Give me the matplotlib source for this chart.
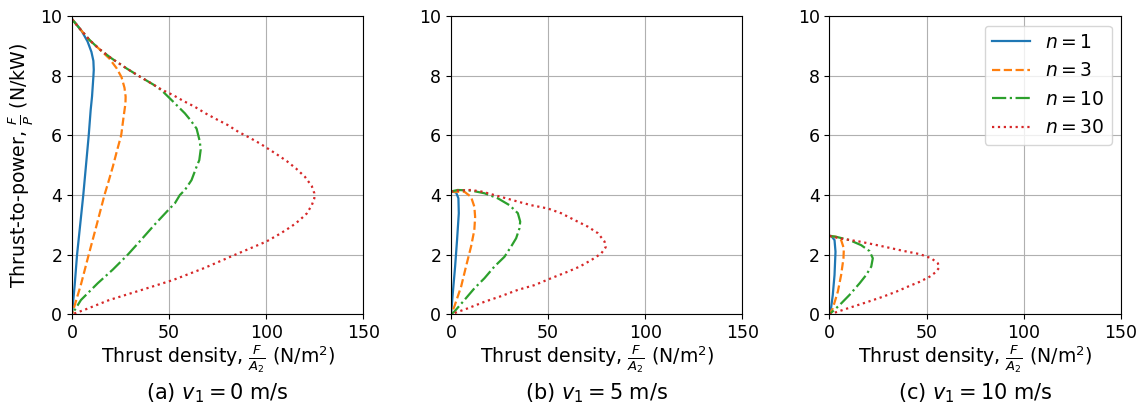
import matplotlib
matplotlib.use("Agg")
import matplotlib.pyplot as plt

# --- datos: densidad de empuje (x) y empuje/potencia (y) ---
# panel (a) v1 = 0 m/s
a_n1_x = [0, 2, 5, 8, 10, 11, 11.2, 11, 10.3, 9.6, 8.6, 7.2, 5.8, 4.2, 2.6, 1.4, 0]
a_n1_y = [9.9, 9.75, 9.5, 9.15, 8.8, 8.5, 8.2, 7.97, 7.3, 6.85, 6.0, 5.0, 4.0, 3.0, 2.0, 1.0, 0]
a_n3_x = [0, 4, 9, 14, 19.2, 23, 25.5, 27, 27.6, 27.5, 26.5, 25.3, 23.2, 21, 19, 16.7, 12.7, 8.6, 4.6, 0]
a_n3_y = [9.9, 9.58, 9.2, 8.9, 8.58, 8.25, 7.95, 7.6, 7.3, 7.07, 6.6, 6.0, 5.5, 4.95, 4.5, 4.0, 3.0, 2.0, 1.0, 0]
a_n10_x = [0, 4, 9, 14, 20, 28, 35, 42, 46, 52.1, 58.1, 61, 64.1, 65.8, 66.2, 65.5, 64.1,
           61.5, 58.1, 55.5, 52.9, 50.3, 42.4, 35.6, 28.7, 21, 13.2, 4.6, 0]
a_n10_y = [9.9, 9.58, 9.2, 8.9, 8.6, 8.25, 7.97, 7.7, 7.52, 7.13, 6.74, 6.51, 6.23, 5.79, 5.51, 5.17, 4.95,
           4.5, 4.17, 4.0, 3.72, 3.55, 3.0, 2.5, 2.0, 1.5, 1.04, 0.48, 0]
a_n30_x = [0, 4, 9, 14, 20, 28, 35, 42, 46, 52.1, 57.2, 63.2, 68.7, 74.4, 80.1, 85.6, 91.2, 96.7,
           105.3, 110.5, 115.3, 119.9, 123.4, 124.7, 124.7, 123.4, 120.8, 117, 113, 107, 100,
           84, 68, 52, 35, 19.2, 6.4, 0]
a_n30_y = [9.9, 9.58, 9.2, 8.9, 8.6, 8.25, 7.97, 7.7, 7.54, 7.35, 7.16, 6.96, 6.74, 6.54, 6.35, 6.12, 5.93, 5.73,
           5.37, 5.14, 4.89, 4.61, 4.3, 4.06, 3.89, 3.66, 3.38, 3.15, 2.95, 2.7, 2.44,
           2.0, 1.55, 1.15, 0.8, 0.48, 0.15, 0]

# panel (b) v1 = 5 m/s
b_n1_x = [0, 0.9, 2.6, 3.8, 4.0, 3.1, 2.1, 0.9, 0]
b_n1_y = [4.12, 4.11, 4.09, 3.89, 3.39, 2.49, 1.6, 0.7, 0]
b_n3_x = [0, 1.7, 6.9, 10.3, 12.0, 12.4, 12.0, 10.3, 7.7, 5.2, 1.7, 0]
b_n3_y = [4.12, 4.11, 4.11, 3.94, 3.61, 3.27, 2.83, 2.27, 1.6, 0.93, 0.26, 0]
b_n10_x = [0, 3.4, 10.3, 17.2, 24.1, 30.1, 34.4, 35.6, 35.2, 33.5, 30.9, 27.5, 22.3, 17.2, 12.0, 6.9, 1.7, 0]
b_n10_y = [4.12, 4.17, 4.15, 4.06, 3.89, 3.66, 3.39, 3.11, 2.88, 2.55, 2.27, 1.93, 1.6, 1.21, 0.87, 0.48, 0.09, 0]
b_n30_x = [0, 3.4, 10.3, 16.3, 22.3, 28.4, 34.4, 41.2, 49.8, 56.7, 63.6, 70.4, 75.6, 79, 79.6, 77.3,
           72.2, 66.2, 60.1, 51.5, 43, 34.4, 25.8, 17.2, 8.6, 0]
b_n30_y = [4.12, 4.15, 4.17, 4.11, 4.0, 3.89, 3.78, 3.66, 3.55, 3.39, 3.16, 2.94, 2.72, 2.44, 2.25, 2.04,
           1.82, 1.6, 1.43, 1.21, 0.98, 0.82, 0.61, 0.42, 0.2, 0]

# panel (c) v1 = 10 m/s
c_n1_x = [0, 0.9, 2.6, 3.1, 2.6, 1.7, 0.7, 0]
c_n1_y = [2.63, 2.63, 2.49, 2.1, 1.32, 0.65, 0.15, 0]
c_n3_x = [0, 3.4, 6.0, 7.4, 7.2, 6.0, 4.3, 1.7, 0]
c_n3_y = [2.63, 2.6, 2.49, 2.21, 1.88, 1.32, 0.76, 0.2, 0]
c_n10_x = [0, 3.4, 10.3, 16.3, 20.6, 22.3, 21.5, 18.9, 15.5, 10.3, 5.2, 0]
c_n10_y = [2.63, 2.6, 2.49, 2.32, 2.12, 1.88, 1.6, 1.32, 1.04, 0.65, 0.31, 0]
c_n30_x = [0, 1.7, 6.9, 15.5, 22.3, 30.9, 37.8, 46.4, 52.4, 55.8, 56.4, 54.6, 51.5, 46.4,
           40.4, 34.4, 27.5, 18.9, 10.3, 3.4, 0]
c_n30_y = [2.63, 2.6, 2.53, 2.44, 2.35, 2.23, 2.13, 2.02, 1.88, 1.71, 1.56, 1.41, 1.26, 1.09,
           0.93, 0.76, 0.59, 0.4, 0.22, 0.07, 0]

n_values = [1, 3, 10, 30]
captions = ["(a) $v_1 = 0$ m/s", "(b) $v_1 = 5$ m/s", "(c) $v_1 = 10$ m/s"]

panels = [
    [(a_n1_x, a_n1_y), (a_n3_x, a_n3_y), (a_n10_x, a_n10_y), (a_n30_x, a_n30_y)],
    [(b_n1_x, b_n1_y), (b_n3_x, b_n3_y), (b_n10_x, b_n10_y), (b_n30_x, b_n30_y)],
    [(c_n1_x, c_n1_y), (c_n3_x, c_n3_y), (c_n10_x, c_n10_y), (c_n30_x, c_n30_y)],
]

styles = ['-', '--', '-.', ':']
colors = ['#1f77b4', '#ff7f0e', '#2ca02c', '#d62728']

plt.rcParams['font.size'] = 12.5

fig = plt.figure(figsize=(11.43, 4.04), dpi=100)
lefts = [0.063, 0.3946, 0.7257]
width = 0.255
bottom = 0.222
height = 0.738

for k, curves in enumerate(panels):
    ax = fig.add_axes([lefts[k], bottom, width, height])
    for (x, y), n, ls, c in zip(curves, n_values, styles, colors):
        ax.plot(x, y, ls, color=c, lw=1.6, label=f'$n = {n}$')
    ax.set_xlim(0, 150)
    ax.set_ylim(0, 10)
    ax.set_xticks([0, 50, 100, 150])
    ax.set_yticks([0, 2, 4, 6, 8, 10])
    ax.grid(True)
    ax.set_xlabel(r"Thrust density, $\frac{F}{A_2}$ (N/m$^2$)", fontsize=13.6, labelpad=1)
    if k == 0:
        ax.set_ylabel(r"Thrust-to-power, $\frac{F}{P}$ (N/kW)", fontsize=13.6, labelpad=3)
    if k == 2:
        ax.legend(loc='upper right', fontsize=13.5)
    # subtitulo debajo de cada panel
    xc = lefts[k] + width / 2
    fig.text(xc, 0.012, captions[k], ha='center', va='baseline', fontsize=15)

fig.savefig("out.png", dpi=100)
plt.close(fig)
